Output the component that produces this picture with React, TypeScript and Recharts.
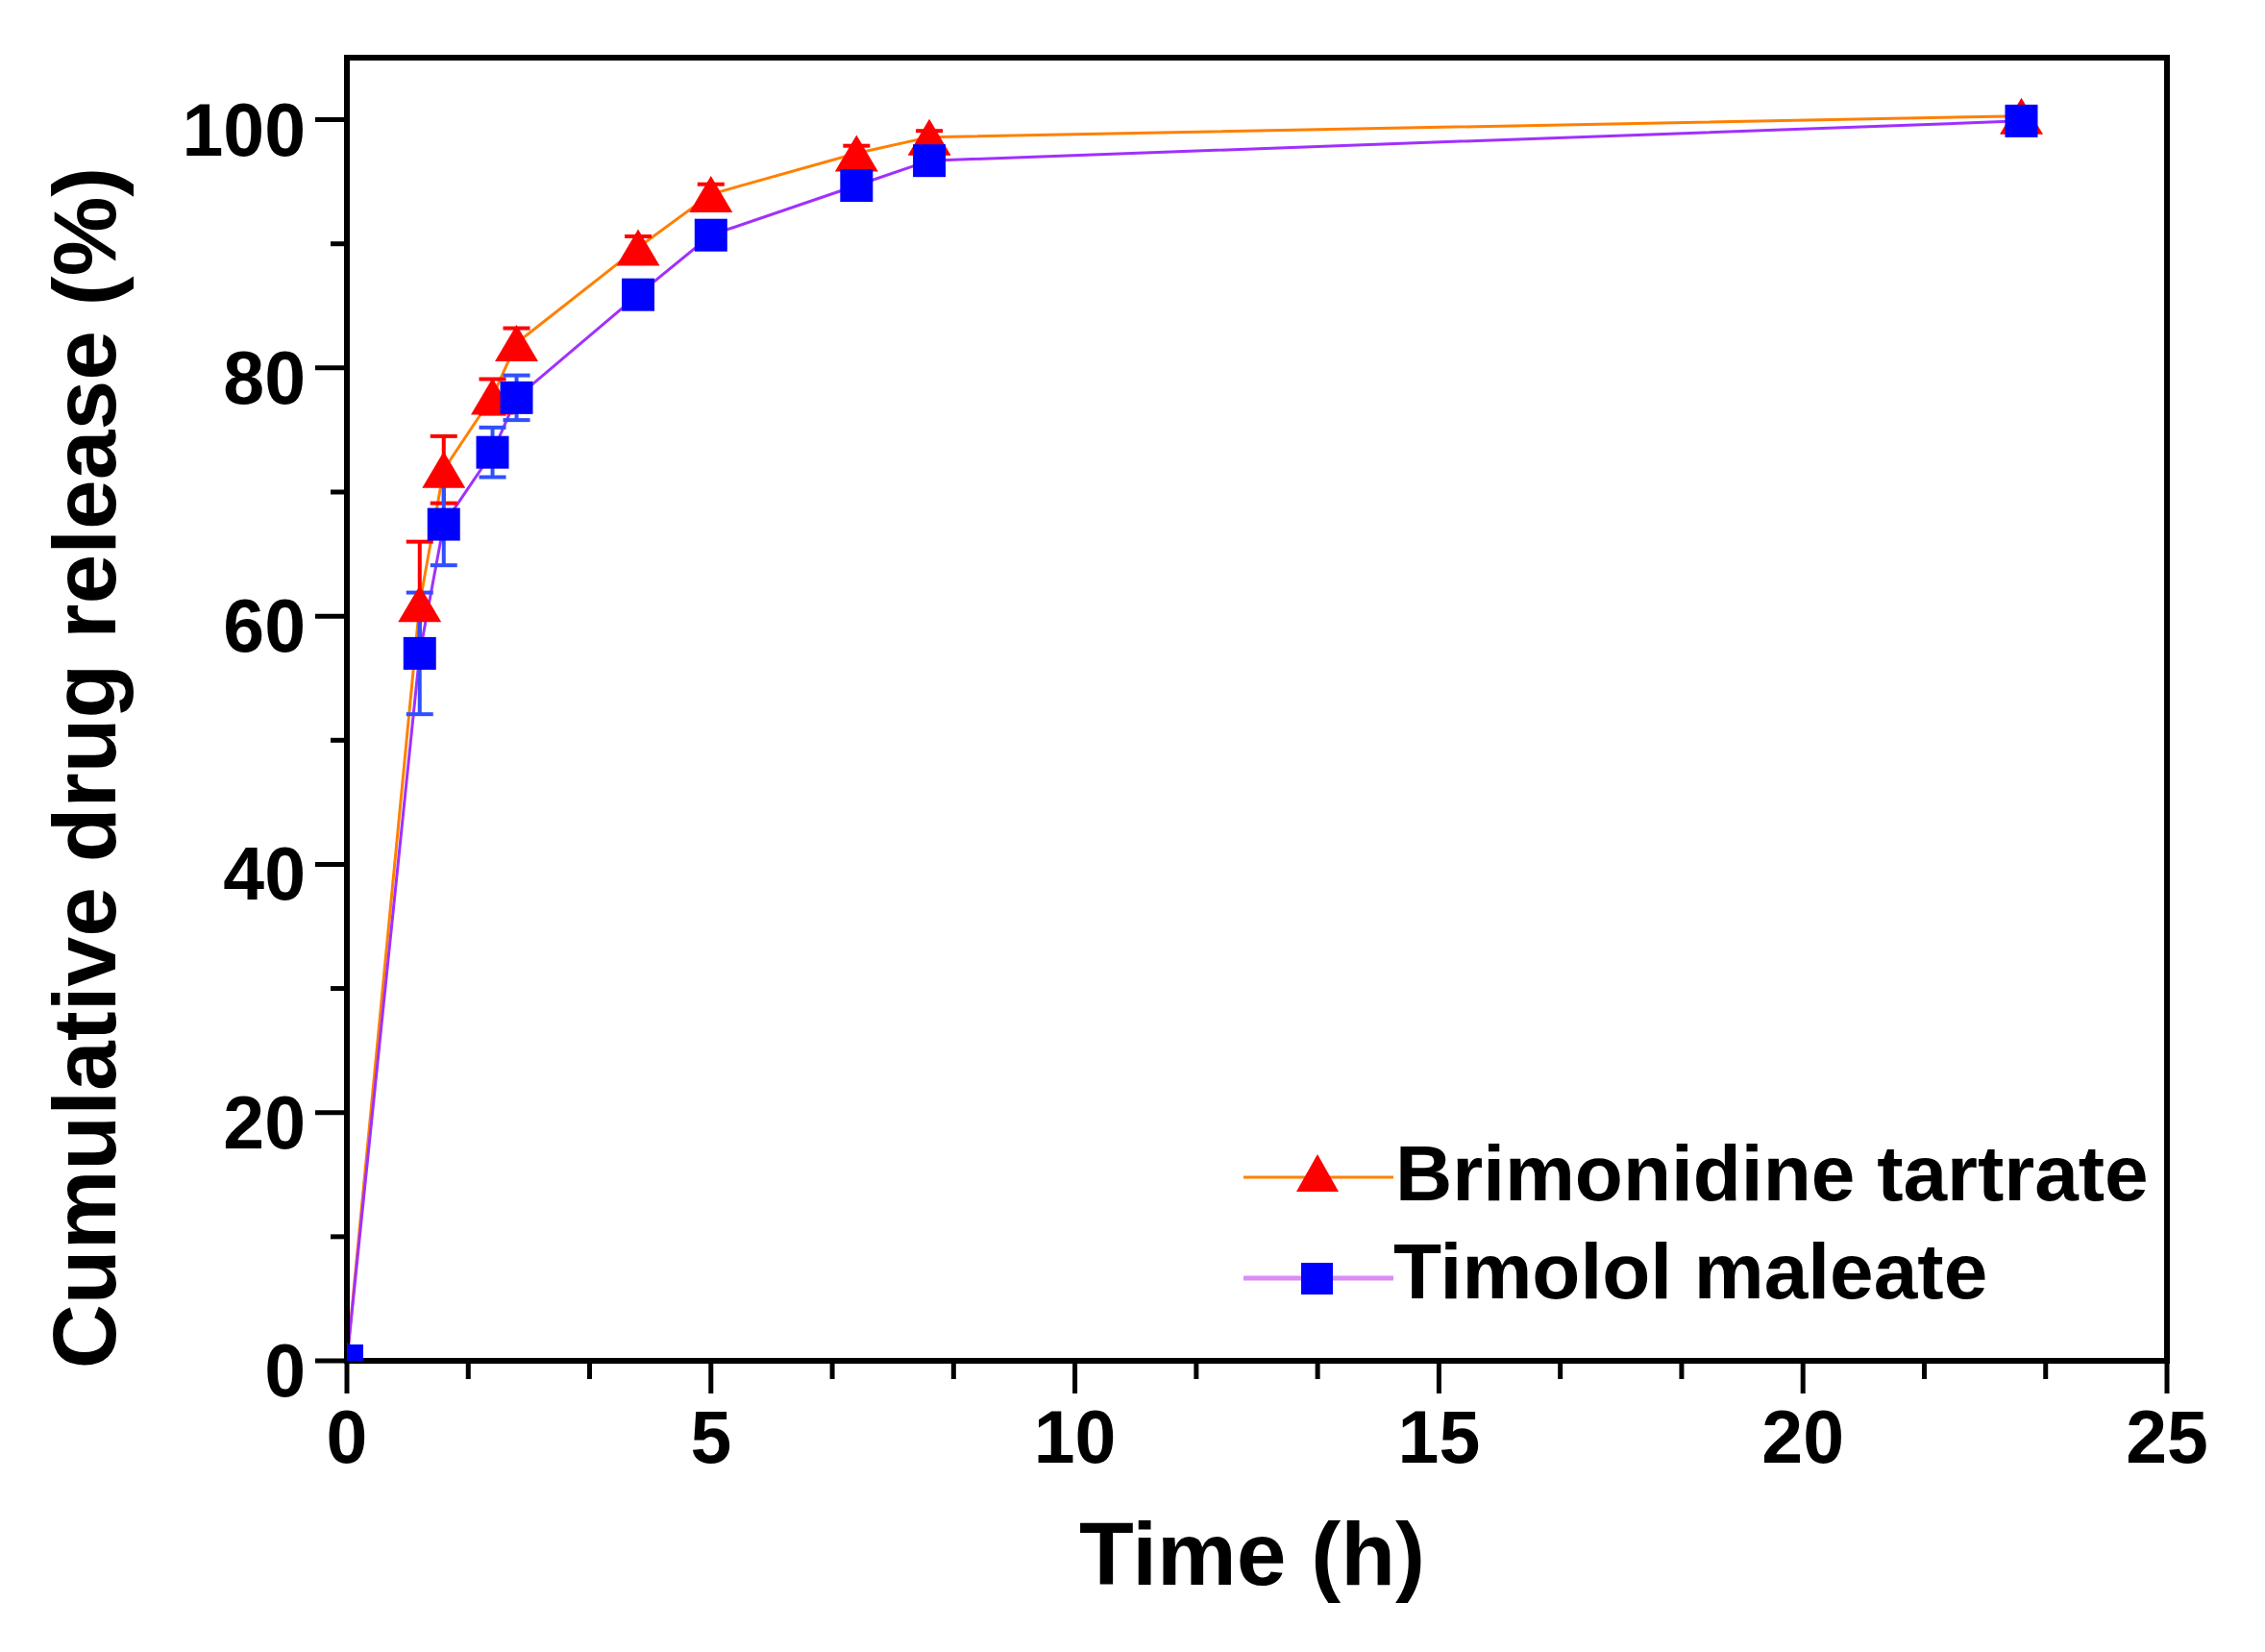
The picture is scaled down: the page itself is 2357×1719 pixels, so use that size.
import React from "react";
import {
  LineChart,
  Line,
  XAxis,
  YAxis,
  ErrorBar,
  ReferenceArea,
  Legend,
  Label,
} from "recharts";

// sampling times (h)
const times = [0, 1, 1.33, 2, 2.33, 4, 5, 7, 8, 23];

// cumulative release (%) and SD
const brimonidine = [0, 61, 71.8, 77.7, 82, 89.7, 94, 97.3, 98.6, 100.3];
const brimonidineSd = [0, 5, 2.7, 1.4, 1.2, 0.9, 0.8, 0.6, 0.5, 0.5];
const timolol = [0, 57, 67.4, 73.2, 77.6, 85.9, 90.7, 94.7, 96.7, 99.9];
const timololSd = [0, 4.9, 3.3, 2, 1.8, 1, 0.6, 0.5, 0.5, 0.4];

const seriesNames = ["Brimonidine tartrate", "Timolol maleate"];

const xMajorTicks = [0, 5, 10, 15, 20, 25];
const yMajorTicks = [0, 20, 40, 60, 80, 100];

// two minor ticks between x majors, one between y majors
const xTicks = xMajorTicks.flatMap((v, i) =>
  i < xMajorTicks.length - 1 ? [v, v + 5 / 3, v + 10 / 3] : [v]
);
const yTicks = yMajorTicks.flatMap((v, i) =>
  i < yMajorTicks.length - 1 ? [v, v + 10] : [v]
);

const brimData = times.map((t, i) => ({
  t,
  v: brimonidine[i],
  err: brimonidineSd[i],
}));
const timData = times.map((t, i) => ({
  t,
  v: timolol[i],
  err: timololSd[i],
}));

const FONT = '"Liberation Sans", Arial, Helvetica, sans-serif';

const isMajor = (v: number, step: number) =>
  Math.abs(v / step - Math.round(v / step)) < 1e-6;

const XTick = (props: any) => {
  const { x, y, payload } = props;
  const major = isMajor(payload.value, 5);
  return (
    <g>
      <line x1={x} y1={y} x2={x} y2={y + (major ? 34 : 19)} stroke="#000" strokeWidth={5} />
      {major && (
        <text x={x} y={y + 106} textAnchor="middle" fontFamily={FONT} fontWeight="bold" fontSize={77} fill="#000">
          {Math.round(payload.value)}
        </text>
      )}
    </g>
  );
};

const YTick = (props: any) => {
  const { x, y, payload } = props;
  const major = isMajor(payload.value, 20);
  return (
    <g>
      <line x1={x} y1={y} x2={x - (major ? 33 : 17)} y2={y} stroke="#000" strokeWidth={5} />
      {major && (
        <text x={x - 43} y={y + 37} textAnchor="end" fontFamily={FONT} fontWeight="bold" fontSize={77} fill="#000">
          {Math.round(payload.value)}
        </text>
      )}
    </g>
  );
};

const renderTriangle = (props: any) => {
  const { cx, cy, index } = props;
  if (cx == null || cy == null) return <g key={`tri-${index}`} />;
  return (
    <polygon
      key={`tri-${index}`}
      points={`${cx},${cy - 19} ${cx - 22.5},${cy + 19} ${cx + 22.5},${cy + 19}`}
      fill="#ff0000"
    />
  );
};

const renderSquare = (props: any) => {
  const { cx, cy, index } = props;
  if (cx == null || cy == null) return <g key={`sq-${index}`} />;
  return <rect key={`sq-${index}`} x={cx - 17} y={cy - 17} width={34} height={34} fill="#0000ff" />;
};

const renderLegend = () => (
  <svg width={1000} height={220}>
    <line x1={14} y1={55} x2={170} y2={55} stroke="#ff8000" strokeWidth={3} />
    <polygon points="91,31 69,70 113,70" fill="#ff0000" />
    <text x={172} y={79} fontFamily={FONT} fontWeight="bold" fontSize={82} fill="#000">
      {seriesNames[0]}
    </text>
    <line x1={14} y1={160} x2={170} y2={160} stroke="#dc8cf5" strokeWidth={5} />
    <rect x={74} y={144} width={33} height={33} fill="#0000ff" />
    <text x={170} y={181} fontFamily={FONT} fontWeight="bold" fontSize={82} fill="#000">
      {seriesNames[1]}
    </text>
  </svg>
);

export default function App() {
  return (
    <div style={{ position: "absolute", left: 0, top: 0, width: 2357, height: 1719, background: "#fff" }}>
      <LineChart
        width={2357}
        height={1719}
        margin={{ top: 60, right: 102, bottom: 103, left: 161 }}
      >
        <XAxis
          type="number"
          dataKey="t"
          domain={[0, 25]}
          ticks={xTicks}
          interval={0}
          allowDataOverflow
          height={200}
          tickSize={0}
          tickMargin={0}
          tickLine={false}
          tick={<XTick />}
          axisLine={{ stroke: "#000", strokeWidth: 6 }}
        >
          <Label
            content={(p: any) => {
              const vb = p.viewBox || { x: 361, y: 1416, width: 1894 };
              return (
                <text x={vb.x + vb.width / 2 - 5} y={vb.y + 233} textAnchor="middle" fontFamily={FONT} fontWeight="bold" fontSize={93} fill="#000">
                  Time (h)
                </text>
              );
            }}
          />
        </XAxis>
        <YAxis
          type="number"
          domain={[0, 105]}
          ticks={yTicks}
          interval={0}
          allowDataOverflow
          width={200}
          tickSize={0}
          tickMargin={0}
          tickLine={false}
          tick={<YTick />}
          axisLine={{ stroke: "#000", strokeWidth: 6 }}
        >
          <Label
            content={() => (
              <text x={120} y={799} transform="rotate(-90 120 799)" textAnchor="middle" fontFamily={FONT} fontWeight="bold" fontSize={93} fill="#000">
                Cumulative drug release (%)
              </text>
            )}
          />
        </YAxis>
        <ReferenceArea x1={0} x2={25} y1={0} y2={105} fill="none" stroke="#000" strokeWidth={6} ifOverflow="visible" />
        <Legend
          layout="horizontal"
          verticalAlign="middle"
          align="center"
          content={renderLegend}
          wrapperStyle={{ left: 1280, top: 1170, width: 1000, height: 220 }}
        />
        <Line
          data={brimData}
          dataKey="v"
          name={seriesNames[0]}
          type="linear"
          stroke="#ff8000"
          strokeWidth={3}
          dot={renderTriangle}
          activeDot={false}
          isAnimationActive={false}
        />
        <Line
          data={timData}
          dataKey="v"
          name={seriesNames[1]}
          type="linear"
          stroke="#a030ff"
          strokeWidth={3}
          dot={renderSquare}
          activeDot={false}
          isAnimationActive={false}
        />
        <Line
          data={brimData}
          dataKey="v"
          legendType="none"
          stroke="none"
          dot={false}
          activeDot={false}
          isAnimationActive={false}
        >
          <ErrorBar dataKey="err" width={14} stroke="#ff0000" strokeWidth={4} direction="y" isAnimationActive={false} />
        </Line>
        <Line
          data={timData}
          dataKey="v"
          legendType="none"
          stroke="none"
          dot={false}
          activeDot={false}
          isAnimationActive={false}
        >
          <ErrorBar dataKey="err" width={14} stroke="#3050ff" strokeWidth={4} direction="y" isAnimationActive={false} />
        </Line>
      </LineChart>
    </div>
  );
}
